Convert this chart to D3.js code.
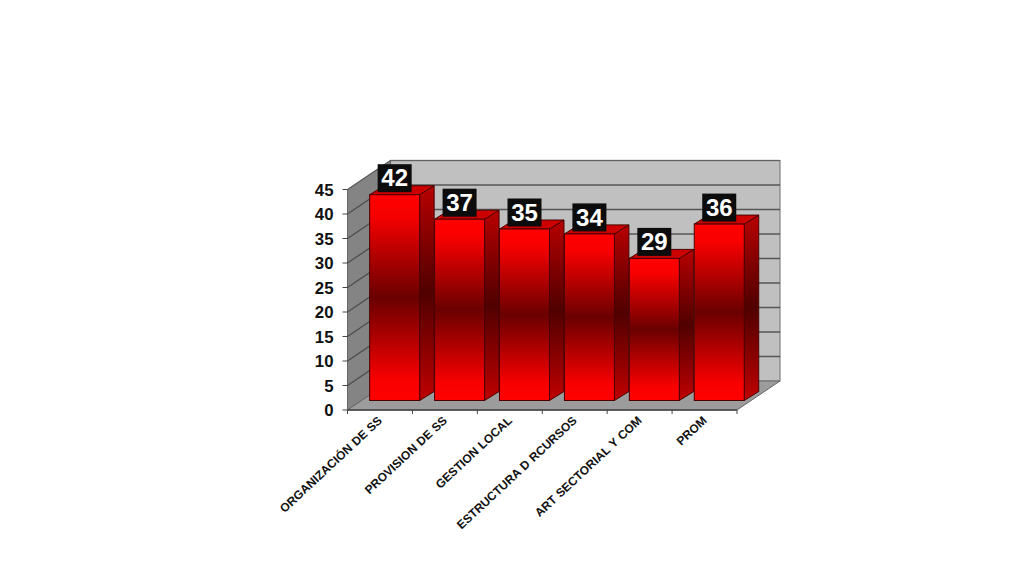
<!DOCTYPE html>
<html><head><meta charset="utf-8">
<script src="https://cdn.jsdelivr.net/npm/d3@7"></script>
<style>html,body{margin:0;padding:0;background:#fff;overflow:hidden}svg{display:block;font-family:"Liberation Sans",Arial,sans-serif}</style>
</head><body><svg id="c" width="1024" height="576"></svg>
<script>
const categories = ["ORGANIZACIÓN DE SS","PROVISION DE SS","GESTION LOCAL","ESTRUCTURA D RCURSOS","ART SECTORIAL Y COM","PROM"];
const values = [42,37,35,34,29,36];
const yTicks = [0,5,10,15,20,25,30,35,40,45];

const svg = d3.select("#c");
const x = d3.scaleBand().domain(categories).range([347.5,737]).paddingInner(0.23).paddingOuter(0.115);
const y = d3.scaleLinear().domain([0,45]).range([410,189.5]);
const wallDX = 43, wallDY = -29;      // full depth of the chart box
const barDX0 = 14.7, barDY0 = -9.5;   // front face of bar relative to the front plane
const barDX = 14.5, barDY = -9;       // depth of a bar
const xL = x.range()[0], xR = x.range()[1], y0 = y(0), yT = y(45);
const poly = pts => pts.map(p=>p.join(",")).join(" ");

const defs = svg.append("defs");
const grad = (id,stops)=>{const g=defs.append("linearGradient").attr("id",id).attr("x1",0).attr("x2",0).attr("y1",0).attr("y2",1);
  stops.forEach(([o,c])=>g.append("stop").attr("offset",o).attr("stop-color",c));};
grad("front",[[0,"#ff0000"],[0.1,"#f80000"],[0.5,"#6a0000"],[0.9,"#f80000"],[1,"#ff0000"]]);
grad("side",[[0,"#b80000"],[0.5,"#500000"],[1,"#c00000"]]);

// walls and floor
svg.append("polygon").attr("points",poly([[xL+wallDX,yT+wallDY],[xR+wallDX,yT+wallDY],[xR+wallDX,y0+wallDY],[xL+wallDX,y0+wallDY]])).attr("fill","#c0c0c0").attr("stroke","#808080").attr("stroke-width",1.2);
svg.append("polygon").attr("points",poly([[xL,yT],[xL+wallDX,yT+wallDY],[xL+wallDX,y0+wallDY],[xL,y0]])).attr("fill","#848484").attr("stroke","#666").attr("stroke-width",1);
svg.append("polygon").attr("points",poly([[xL,y0],[xL+wallDX,y0+wallDY],[xR+wallDX,y0+wallDY],[xR,y0]])).attr("fill","#9c9c9c").attr("stroke","#666").attr("stroke-width",1);
// gridlines on walls
yTicks.filter(t=>t>0).forEach(t=>{
  svg.append("polyline").attr("points",poly([[xL,y(t)],[xL+wallDX,y(t)+wallDY],[xR+wallDX,y(t)+wallDY]])).attr("fill","none").attr("stroke","#444").attr("stroke-width",1.3).attr("stroke-opacity",t===45?0.5:0.85);
});
// front axes
svg.append("line").attr("x1",xL).attr("x2",xR).attr("y1",y0).attr("y2",y0).attr("stroke","#444").attr("stroke-width",1.4);
d3.range(categories.length+1).forEach(i=>{
  const tx = xL + (xR-xL)*i/categories.length;
  svg.append("line").attr("x1",tx).attr("x2",tx).attr("y1",y0).attr("y2",y0+4).attr("stroke","#444");
});
yTicks.forEach(t=>{
  svg.append("line").attr("x1",xL-5).attr("x2",xL).attr("y1",y(t)).attr("y2",y(t)).attr("stroke","#444");
  svg.append("text").attr("x",xL-14).attr("y",y(t)+6).attr("text-anchor","end").attr("font-size",16.8).attr("font-weight","bold").attr("fill","#111").text(t);
});
// bars
categories.forEach((c,i)=>{
  const v = values[i];
  const l = x(c)+barDX0, r = l+x.bandwidth();
  const b = y0+barDY0, t = y(v)+barDY0;
  const g = svg.append("g").attr("stroke","#4a0000").attr("stroke-width",1);
  g.append("polygon").attr("points",poly([[r,b],[r+barDX,b+barDY],[r+barDX,t+barDY],[r,t]])).attr("fill","url(#side)");
  g.append("polygon").attr("points",poly([[l,t],[l+barDX,t+barDY],[r+barDX,t+barDY],[r,t]])).attr("fill","#cc0000");
  g.append("rect").attr("x",l).attr("y",t).attr("width",r-l).attr("height",b-t).attr("fill","url(#front)");
});
// value labels
categories.forEach((c,i)=>{
  const v = values[i];
  const cx = x(c)+barDX0+x.bandwidth()/2, t = y(v)+barDY0;
  svg.append("rect").attr("x",cx-17).attr("y",t-30.5).attr("width",34).attr("height",28).attr("fill","#0c0c0c");
  svg.append("text").attr("x",cx).attr("y",t-8.3).attr("text-anchor","middle").attr("font-size",24).attr("font-weight","bold").attr("fill","#fff").text(v);
});
// category labels
categories.forEach(c=>{
  const tx = x(c)+x.bandwidth()/2+3, ty = y0+11.5;
  svg.append("text").attr("transform",`translate(${tx},${ty}) rotate(-43)`).attr("text-anchor","end").attr("font-size",12).attr("word-spacing",0.6).attr("font-weight","bold").attr("fill","#111").text(c);
});
</script></body></html>
